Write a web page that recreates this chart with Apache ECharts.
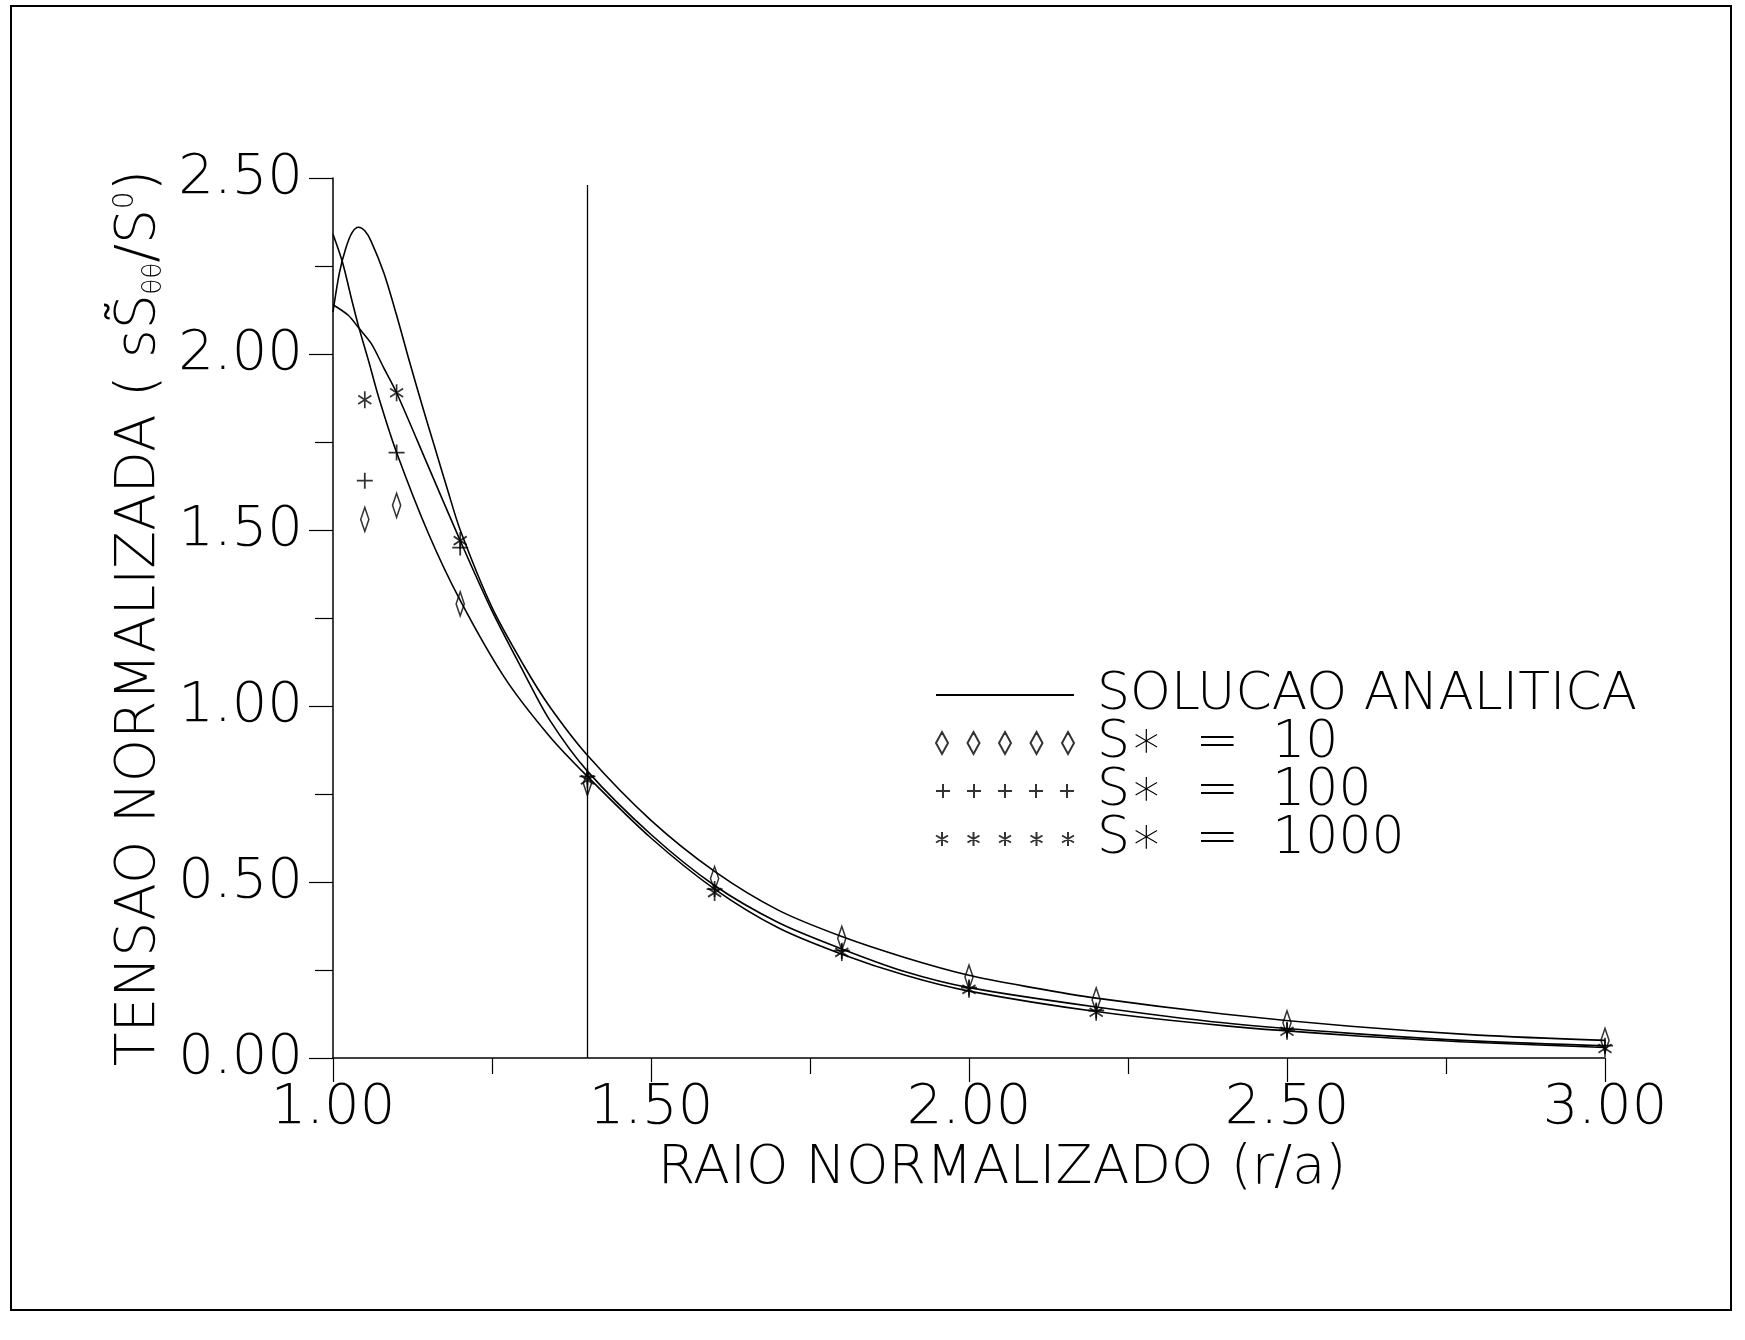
<!DOCTYPE html>
<html>
<head>
<meta charset="utf-8">
<script src="https://cdn.jsdelivr.net/npm/echarts@6/dist/echarts.min.js"></script>
<style>
  html, body { margin: 0; padding: 0; background: #fff; }
  #chart { width: 1745px; height: 1340px; }
</style>
</head>
<body>
<div id="chart"></div>
<script>
// solucao analitica - tres curvas (r/a, tensao normalizada)
const curveA_r = [1.00, 1.01, 1.02, 1.03, 1.04, 1.05, 1.06, 1.08, 1.10, 1.12, 1.14, 1.16, 1.18, 1.20, 1.25, 1.30, 1.34, 1.40, 1.50, 1.60, 1.70, 1.80, 1.90, 2.00, 2.10, 2.20, 2.40, 2.60, 2.80, 3.00];
const curveA_s = [2.12, 2.23, 2.30, 2.345, 2.36, 2.35, 2.32, 2.23, 2.11, 1.98, 1.855, 1.735, 1.615, 1.50, 1.28, 1.115, 1.00, 0.86, 0.675, 0.53, 0.42, 0.345, 0.285, 0.235, 0.20, 0.17, 0.125, 0.09, 0.065, 0.05];

const curveB_r = [1.00, 1.015, 1.03, 1.04, 1.056, 1.073, 1.10, 1.15, 1.20, 1.27, 1.34, 1.40, 1.50, 1.60, 1.70, 1.80, 1.90, 2.00, 2.20, 2.40, 2.60, 2.80, 3.00];
const curveB_s = [2.34, 2.26, 2.15, 2.08, 1.98, 1.87, 1.72, 1.49, 1.30, 1.08, 0.915, 0.80, 0.625, 0.48, 0.37, 0.295, 0.235, 0.19, 0.132, 0.092, 0.064, 0.044, 0.03];

const curveC_r = [1.00, 1.024, 1.04, 1.06, 1.08, 1.10, 1.15, 1.20, 1.25, 1.30, 1.34, 1.40, 1.50, 1.60, 1.70, 1.80, 1.90, 2.00, 2.20, 2.40, 2.60, 2.80, 3.00];
const curveC_s = [2.14, 2.11, 2.075, 2.03, 1.96, 1.89, 1.68, 1.47, 1.27, 1.095, 0.962, 0.815, 0.635, 0.49, 0.385, 0.31, 0.245, 0.20, 0.145, 0.10, 0.07, 0.048, 0.035];

// pontos numericos
const markerR = [1.05, 1.10, 1.20, 1.40, 1.60, 1.80, 2.00, 2.20, 2.50, 3.00];
const s10 = [1.53, 1.57, 1.29, 0.78, 0.51, 0.34, 0.23, 0.165, 0.10, 0.05];
const s100 = [1.64, 1.72, 1.45, 0.80, 0.48, 0.305, 0.20, 0.135, 0.08, 0.035];
const s1000 = [1.87, 1.89, 1.47, 0.79, 0.47, 0.30, 0.195, 0.13, 0.076, 0.027];

const xTicks = [1.00, 1.50, 2.00, 2.50, 3.00];
const yTicks = [0.00, 0.50, 1.00, 1.50, 2.00, 2.50];
const lineR = 1.40;      // linha vertical
const lineTop = 2.48;

const FONT = 'DejaVu Sans';
const INK = '#000';

const zip = (a, b) => a.map((v, i) => [v, b[i]]);

// simbolos
const diamond = 'path://M7,0L14,12L7,24L0,12Z';
const plus = 'path://M0,7L14,7M7,0L7,14';
const star = 'path://M7,0L7,16M0,4L14,12M0,12L14,4';

// icones da legenda (5 simbolos por linha)
const repeatPath = (one, step, n) => {
  let out = [];
  for (let i = 0; i < n; i++) out.push(one(i * step));
  return 'path://' + out.join(' ');
};
const diamondIcon = repeatPath(x => `M${x + 6},0L${x + 12},11L${x + 6},22L${x},11Z`, 31.5, 5);
const plusIcon = repeatPath(x => `M${x},7L${x + 14},7M${x + 7},0L${x + 7},14`, 31, 5);
const starIcon = repeatPath(x => `M${x + 6},0L${x + 6},14M${x},3.5L${x + 12},10.5M${x},10.5L${x + 12},3.5`, 31.5, 5);

const lineSeries = (data) => ({
  name: 'SOLUCAO ANALITICA',
  type: 'line',
  data: data,
  smooth: 0.3,
  symbol: 'none',
  lineStyle: { color: INK, width: 1.6 },
  itemStyle: { color: INK },
  z: 2
});

const markerSeries = (name, data, symbol, size) => ({
  name: name,
  type: 'scatter',
  data: data,
  symbol: symbol,
  symbolSize: size,
  symbolKeepAspect: true,
  itemStyle: { color: 'rgba(0,0,0,0)', borderColor: INK, borderWidth: 1.8 },
  z: 3
});

const chart = echarts.init(document.getElementById('chart'));

const option = {
  backgroundColor: '#fff',
  animation: false,
  grid: { left: 333, right: 140, top: 178, bottom: 282 },
  xAxis: {
    type: 'value',
    min: 1,
    max: 3,
    interval: 0.5,
    name: 'RAIO NORMALIZADO (r/a)',
    nameLocation: 'middle',
    nameGap: 84,
    nameTextStyle: { fontFamily: FONT, fontWeight: 200, fontSize: 54, color: INK, padding: [0, 0, 0, 66] },
    axisLine: { lineStyle: { color: INK, width: 1.5 } },
    axisTick: { length: 24, lineStyle: { color: INK, width: 1.2 } },
    minorTick: { show: true, splitNumber: 2, length: 16, lineStyle: { color: INK, width: 1.2 } },
    splitLine: { show: false },
    axisLabel: {
      margin: 22,
      fontFamily: FONT, fontWeight: 200, fontSize: 56, color: INK,
      formatter: v => xTicks.includes(v) ? v.toFixed(2) : ''
    }
  },
  yAxis: {
    type: 'value',
    min: 0,
    max: 2.5,
    interval: 0.5,
    name: 'TENSAO NORMALIZADA ( sS\u0303{sub|θθ}/S{sup|0})',
    nameLocation: 'middle',
    nameRotate: 90,
    nameGap: 166,
    nameTextStyle: {
      fontFamily: FONT, fontWeight: 200, fontSize: 55, color: INK,
      rich: {
        sub: { fontFamily: FONT, fontSize: 26, color: INK, verticalAlign: 'bottom', padding: [26, 0, 0, 0] },
        sup: { fontFamily: FONT, fontSize: 28, color: INK, verticalAlign: 'top', padding: [0, 0, 24, 0] }
      }
    },
    axisLine: { show: true, lineStyle: { color: INK, width: 1.5 } },
    axisTick: { show: true, length: 24, lineStyle: { color: INK, width: 1.2 } },
    minorTick: { show: true, splitNumber: 2, length: 18, lineStyle: { color: INK, width: 1.2 } },
    splitLine: { show: false },
    axisLabel: {
      margin: 30,
      fontFamily: FONT, fontWeight: 200, fontSize: 56, color: INK,
      formatter: v => yTicks.includes(v) ? v.toFixed(2) : ''
    }
  },
  legend: {
    orient: 'vertical',
    left: 930,
    top: 664,
    itemWidth: 138,
    itemHeight: 22,
    itemGap: -4,
    selectedMode: false,
    textStyle: { fontFamily: FONT, fontWeight: 200, fontSize: 52, lineHeight: 48, color: INK, padding: [0, 0, 0, 18] },
    data: [
      { name: 'SOLUCAO ANALITICA', itemStyle: { opacity: 0 } },
      { name: 'S∗  =  10', icon: diamondIcon },
      { name: 'S∗  =  100', icon: plusIcon },
      { name: 'S∗  =  1000', icon: starIcon }
    ]
  },
  graphic: [
    {
      type: 'rect',
      shape: { x: 11, y: 6, width: 1720, height: 1304 },
      style: { fill: 'none', stroke: INK, lineWidth: 2 },
      silent: true
    }
  ],
  series: [
    Object.assign(lineSeries(zip(curveA_r, curveA_s)), {
      markLine: {
        silent: true,
        symbol: 'none',
        label: { show: false },
        lineStyle: { color: INK, width: 1.3, type: 'solid' },
        data: [[{ coord: [lineR, 0] }, { coord: [lineR, lineTop] }]]
      }
    }),
    lineSeries(zip(curveB_r, curveB_s)),
    lineSeries(zip(curveC_r, curveC_s)),
    markerSeries('S∗  =  10', zip(markerR, s10), diamond, [14, 24]),
    markerSeries('S∗  =  100', zip(markerR, s100), plus, [16, 16]),
    markerSeries('S∗  =  1000', zip(markerR, s1000), star, [15, 17])
  ]
};

chart.setOption(option);
</script>
</body>
</html>
